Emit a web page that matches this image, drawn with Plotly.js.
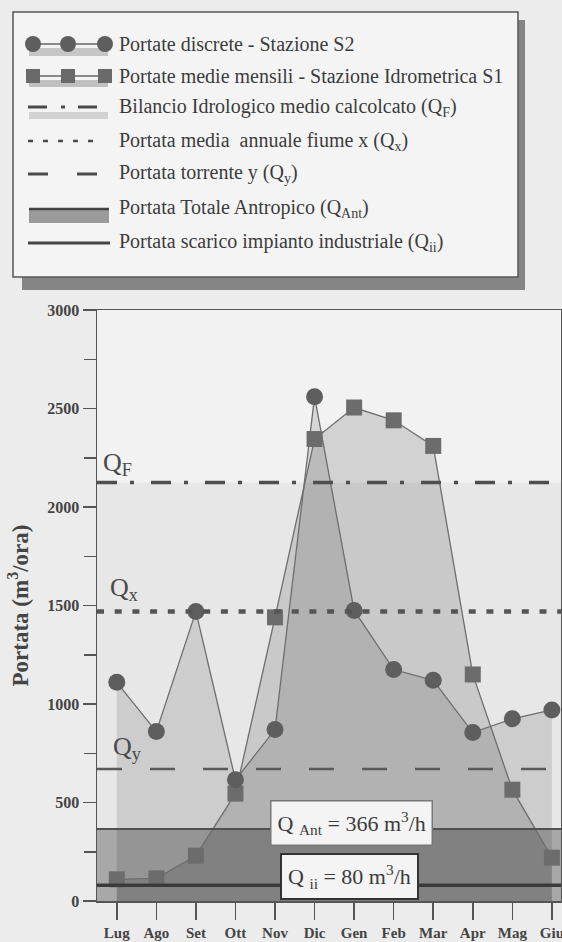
<!DOCTYPE html>
<html><head><meta charset="utf-8">
<script src="https://cdn.plot.ly/plotly-3.0.1.min.js"></script>
<style>html,body{margin:0;padding:0;background:#ececec}#chart{width:562px;height:942px}</style>
</head><body><div id="chart"></div>
<script>
// ---- data ----
const months = ['Lug','Ago','Set','Ott','Nov','Dic','Gen','Feb','Mar','Apr','Mag','Giu'];
const portateS2 = [1110, 860, 1470, 615, 870, 2560, 1475, 1175, 1120, 855, 925, 970];
const portateS1 = [110, 115, 230, 545, 1440, 2345, 2505, 2440, 2310, 1150, 565, 220];
const QF = 2125;
const Qx = 1470;
const Qy = 670;
const QAnt = 366;
const Qii = 80;
const legendLabels = [
  'Portate discrete - Stazione S2',
  'Portate medie mensili - Stazione Idrometrica S1',
  'Bilancio Idrologico medio calcolcato (Q<sub>F</sub>)',
  'Portata media  annuale fiume x (Q<sub>x</sub>)',
  'Portata torrente y (Q<sub>y</sub>)',
  'Portata Totale Antropico (Q<sub>Ant</sub>)',
  'Portata scarico impianto industriale (Q<sub>ii</sub>)'
];

// ---- layout geometry ----
const W = 562, H = 942;
const M = {l: 97, r: 1, t: 310, b: 41};
const PW = W - M.l - M.r, PH = H - M.t - M.b;
const X = px => (px - M.l) / PW;
const Y = py => (H - M.b - py) / PH;
const FONT = 'Liberation Serif, Times New Roman, serif';
const INK = '#444';

const traces = [
  {x: months, y: portateS2, type: 'scatter', mode: 'lines', fill: 'tozeroy',
   fillcolor: 'rgba(0,0,0,0.11)', line: {width: 0}, hoverinfo: 'skip'},
  {x: months, y: portateS1, type: 'scatter', mode: 'lines', fill: 'tozeroy',
   fillcolor: 'rgba(0,0,0,0.13)', line: {width: 0}, hoverinfo: 'skip'},
  {x: months, y: portateS1, type: 'scatter', mode: 'lines+markers', name: legendLabels[1],
   line: {color: '#6e6e6e', width: 1.3},
   marker: {symbol: 'square', size: 16, color: '#6c6c6c'}},
  {x: months, y: portateS2, type: 'scatter', mode: 'lines+markers', name: legendLabels[0],
   line: {color: '#6e6e6e', width: 1.3},
   marker: {symbol: 'circle', size: 17, color: '#5e5e5e'}}
];

const shapes = [
  // bands under traces
  {type: 'rect', xref: 'paper', yref: 'y', x0: 0, x1: 1, y0: 0, y1: QF, layer: 'below',
   fillcolor: 'rgba(0,0,0,0.045)', line: {width: 0}},
  {type: 'rect', xref: 'paper', yref: 'y', x0: 0, x1: 1, y0: 0, y1: QAnt, layer: 'below',
   fillcolor: 'rgba(0,0,0,0.27)', line: {width: 0}},
  // reference lines
  {type: 'line', xref: 'paper', yref: 'y', x0: 0, x1: 1, y0: QF, y1: QF,
   line: {color: '#4e4e4e', width: 3.5, dash: '20px,13px,4px,17px'}},
  {type: 'line', xref: 'paper', yref: 'y', x0: 0, x1: 1, y0: Qx, y1: Qx,
   line: {color: '#555', width: 4.5, dash: '7px,10.7px'}},
  {type: 'line', xref: 'paper', yref: 'y', x0: 0, x1: 1, y0: Qy, y1: Qy,
   line: {color: '#5a5a5a', width: 2.5, dash: '25px,28px'}},
  {type: 'line', xref: 'paper', yref: 'y', x0: 0, x1: 1, y0: QAnt, y1: QAnt,
   line: {color: '#505050', width: 2}},
  {type: 'line', xref: 'paper', yref: 'y', x0: 0, x1: 1, y0: Qii, y1: Qii,
   line: {color: '#3a3a3a', width: 3.5}},
  // legend box with shadow
  {type: 'rect', xref: 'paper', yref: 'paper', x0: X(22), x1: X(525), y0: Y(290), y1: Y(20),
   fillcolor: '#858585', line: {width: 0}},
  {type: 'rect', xref: 'paper', yref: 'paper', x0: X(13), x1: X(518), y0: Y(277), y1: Y(12),
   fillcolor: '#f4f4f4', line: {color: '#555', width: 1.5}}
];

// legend glyphs
const rowsY = [44, 76, 107, 141, 174, 209, 243];
function hline(x0, x1, y, color, width, dash) {
  shapes.push({type: 'line', xref: 'paper', yref: 'paper', x0: X(x0), x1: X(x1), y0: Y(y), y1: Y(y),
    line: {color: color, width: width, dash: dash || 'solid'}});
}
function rect(x0, x1, y0, y1, color) {
  shapes.push({type: 'rect', xref: 'paper', yref: 'paper', x0: X(x0), x1: X(x1), y0: Y(y1), y1: Y(y0),
    fillcolor: color, line: {width: 0}});
}
// row 1: circles
rect(29, 108, rowsY[0] + 4, rowsY[0] + 12, '#c6c6c6');
hline(33, 105, rowsY[0], '#666', 1.5);
[33, 68, 105].forEach(cx => shapes.push({type: 'circle', xref: 'paper', yref: 'paper',
  x0: X(cx - 8), x1: X(cx + 8), y0: Y(rowsY[0] + 8), y1: Y(rowsY[0] - 8),
  fillcolor: '#5e5e5e', line: {width: 0}}));
// row 2: squares
rect(29, 108, rowsY[1] + 4, rowsY[1] + 11, '#c0c0c0');
hline(33, 105, rowsY[1], '#666', 1.5);
[33, 68, 105].forEach(cx => rect(cx - 7, cx + 7, rowsY[1] - 7, rowsY[1] + 7, '#6a6a6a'));
// row 3: dash-dot
rect(29, 108, rowsY[2] + 5, rowsY[2] + 12, '#d2d2d2');
hline(28, 97, rowsY[2], '#4a4a4a', 3, '19px,14px,4px,13px');
// row 4: dotted
hline(28, 101, rowsY[3], '#4a4a4a', 2.5, '5px,10px');
// row 5: dashed
hline(28, 100, rowsY[4], '#4a4a4a', 3, '20px,29px');
// row 6: band
rect(29, 109, rowsY[5], rowsY[5] + 14, '#9a9a9a');
hline(29, 109, rowsY[5], '#444', 2.5);
// row 7: solid
hline(28, 110, rowsY[6], '#444', 3);

const annotations = legendLabels.map((t, i) => ({
  xref: 'paper', yref: 'paper', x: X(117), y: Y(rowsY[i]), xanchor: 'left', yanchor: 'middle',
  text: t, showarrow: false, font: {family: FONT, size: 20, color: '#3c3c3c'}
}));

// in-plot labels
const qFont = {family: FONT, size: 26, color: '#4a4a4a'};
annotations.push(
  {xref: 'paper', yref: 'y', x: X(101), y: QF, xanchor: 'left', yanchor: 'bottom', yshift: 0,
   text: 'Q<sub>F</sub>', showarrow: false, font: qFont},
  {xref: 'paper', yref: 'y', x: X(108), y: Qx, xanchor: 'left', yanchor: 'bottom', yshift: 4,
   text: 'Q<sub>x</sub>', showarrow: false, font: qFont},
  {xref: 'paper', yref: 'y', x: X(111), y: Qy, xanchor: 'left', yanchor: 'bottom', yshift: 3,
   text: 'Q<sub>y</sub>', showarrow: false, font: qFont},
  {xref: 'paper', yref: 'y', x: X(351), y: QAnt, xanchor: 'center', yanchor: 'middle', yshift: 6,
   text: 'Q <sub>Ant</sub> = ' + QAnt + ' m<sup>3</sup>/h', showarrow: false,
   font: {family: FONT, size: 22, color: '#3c3c3c'},
   bgcolor: '#f4f4f4', bordercolor: '#777', borderwidth: 1.5, borderpad: 6},
  {xref: 'paper', yref: 'y', x: X(349), y: Qii, xanchor: 'center', yanchor: 'middle', yshift: 9,
   text: 'Q <sub>ii</sub> = ' + Qii + ' m<sup>3</sup>/h', showarrow: false,
   font: {family: FONT, size: 22, color: '#3c3c3c'},
   bgcolor: '#f4f4f4', bordercolor: '#333', borderwidth: 2, borderpad: 6}
);

const layout = {
  width: W, height: H, margin: M,
  paper_bgcolor: '#ececec', plot_bgcolor: '#f2f2f2',
  showlegend: false,
  xaxis: {type: 'category', range: [-0.5, 11.23], showline: true, mirror: true,
    linecolor: '#555', linewidth: 1.5, ticks: 'outside', ticklen: 17, tickwidth: 1.5,
    tickcolor: '#555', showgrid: false, zeroline: false,
    tickfont: {family: FONT, size: 15, color: INK, weight: 'bold'}},
  yaxis: {range: [0, 3000], tick0: 0, dtick: 500, showline: true, mirror: true,
    linecolor: '#555', linewidth: 1.5, ticks: 'outside', ticklen: 13, tickwidth: 1.5,
    tickcolor: '#555', showgrid: false, zeroline: false,
    minor: {dtick: 250, ticks: 'outside', ticklen: 12, tickwidth: 1.5, tickcolor: '#555', showgrid: false},
    tickfont: {family: FONT, size: 16, color: INK, weight: 'bold'},
    title: {text: 'Portata (m<sup>3</sup>/ora)', standoff: 12,
      font: {family: FONT, size: 23, color: INK, weight: 'bold'}}},
  shapes: shapes,
  annotations: annotations
};

Plotly.newPlot('chart', traces, layout, {displayModeBar: false, staticPlot: true});
</script>
</body></html>
